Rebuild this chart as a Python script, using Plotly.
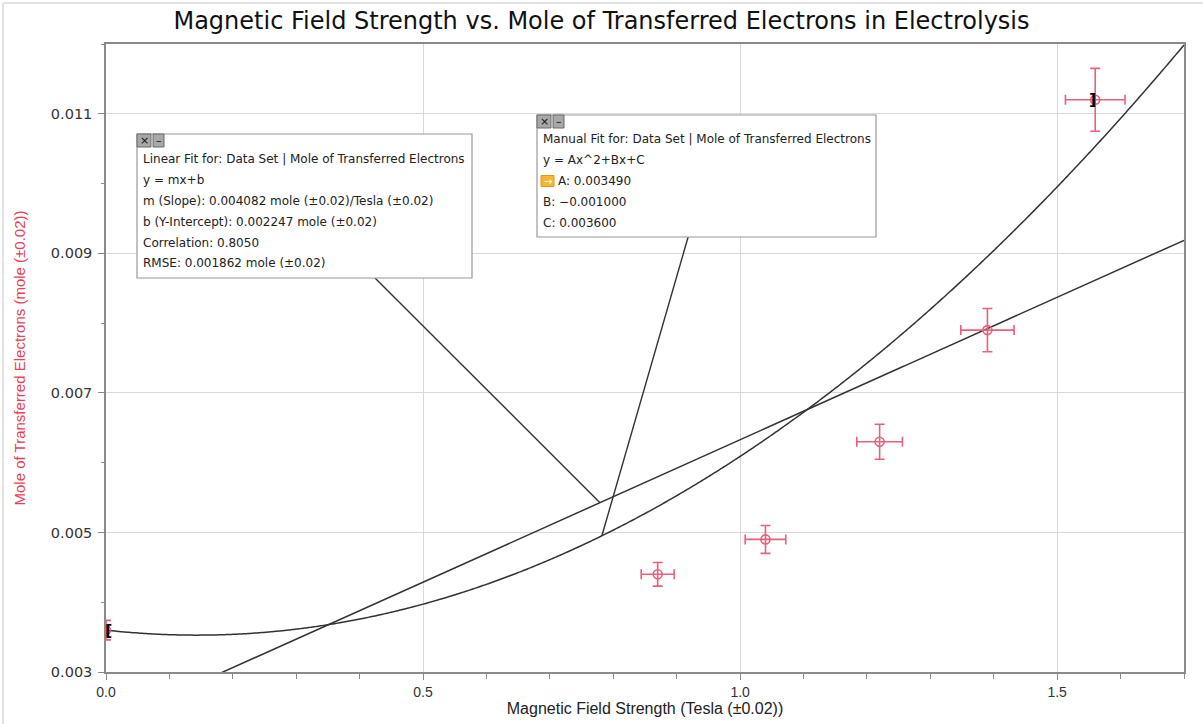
import numpy as np
import plotly.graph_objects as go

# ---- data ----
field_tesla = [0.0, 0.87, 1.04, 1.22, 1.39, 1.56]
moles = [0.0036, 0.0044, 0.0049, 0.0063, 0.0079, 0.0112]
x_err = [0.0, 0.026, 0.032, 0.036, 0.042, 0.047]
y_err = [0.00014, 0.00017, 0.0002, 0.00025, 0.00031, 0.00045]

# fit parameters (from the fit boxes)
lin_m = 0.004082
lin_b = 0.002247
quad_A = 0.003490
quad_B = -0.001000
quad_C = 0.003600

x_range = [0.0, 1.7]
y_range = [0.003, 0.012]

title_text = "Magnetic Field Strength vs. Mole of Transferred Electrons in Electrolysis"
x_title = "Magnetic Field Strength (Tesla (±0.02))"
y_title = "Mole of Transferred Electrons (mole (±0.02))"

lin_lines = [
    "Linear Fit for: Data Set | Mole of Transferred Electrons",
    "y = mx+b",
    "m (Slope): 0.004082 mole (±0.02)/Tesla (±0.02)",
    "b (Y-Intercept): 0.002247 mole (±0.02)",
    "Correlation: 0.8050",
    "RMSE: 0.001862 mole (±0.02)",
]
man_lines = [
    "Manual Fit for: Data Set | Mole of Transferred Electrons",
    "y = Ax^2+Bx+C",
    "A: 0.003490",
    "B: \u22120.001000",
    "C: 0.003600",
]

# ---- layout geometry (pixels) ----
W, H = 1203, 724
ML, MR, MT, MB = 106, 19, 44, 52
PW, PH = W - ML - MR, H - MT - MB


def px(x):
    return (x - ML) / PW


def py(y):
    return (H - MB - y) / PH


RED = "#e8607a"
TXT_FONT = "DejaVu Sans"
NARROW = "Liberation Sans Narrow, Liberation Sans, Arial Narrow, sans-serif"

fig = go.Figure()

xs = np.linspace(x_range[0], x_range[1], 400)
fig.add_trace(go.Scatter(x=xs, y=lin_m * xs + lin_b, mode="lines",
                         line=dict(color="#333333", width=1.5), hoverinfo="skip", showlegend=False))
fig.add_trace(go.Scatter(x=xs, y=quad_A * xs ** 2 + quad_B * xs + quad_C, mode="lines",
                         line=dict(color="#333333", width=1.5, shape="spline"), hoverinfo="skip", showlegend=False))

fig.add_trace(go.Scatter(
    x=field_tesla, y=moles, mode="markers",
    marker=dict(symbol="circle-open", size=9, color=RED, line=dict(width=1.6, color=RED)),
    error_x=dict(type="data", array=x_err, color=RED, thickness=1.6, width=5),
    error_y=dict(type="data", array=y_err, color=RED, thickness=1.6, width=5),
    showlegend=False,
))

shapes = []
annotations = []

# outer faint frame
shapes.append(dict(type="line", xref="paper", yref="paper", x0=px(3), x1=px(W), y0=py(3), y1=py(3),
                   line=dict(color="#e2e2e2", width=2)))
shapes.append(dict(type="line", xref="paper", yref="paper", x0=px(3), x1=px(3), y0=py(3), y1=py(H),
                   line=dict(color="#e2e2e2", width=2)))

# leader lines from boxes to the fit curves
lx = 0.779
shapes.append(dict(type="line", xref="x", yref="y", x0=0.4242, y0=0.008646,
                   x1=lx, y1=lin_m * lx + lin_b, line=dict(color="#333333", width=1.4)))
qx = 0.782
shapes.append(dict(type="line", xref="x", yref="y", x0=0.918, y0=0.009234,
                   x1=qx, y1=quad_A * qx ** 2 + quad_B * qx + quad_C, line=dict(color="#333333", width=1.4)))


def add_box(x0, y0, x1, y1, lines, line_ys, text_x, orange_idx=None):
    shapes.append(dict(type="rect", xref="paper", yref="paper", x0=px(x0), x1=px(x1), y0=py(y1), y1=py(y0),
                       line=dict(color="#9a9a9a", width=1.2), fillcolor="white", layer="above"))
    # title bar icons
    for (ix0, ix1, sym) in [(x0, x0 + 14, "\u00d7"), (x0 + 16, x0 + 27, "\u2013")]:
        shapes.append(dict(type="rect", xref="paper", yref="paper", x0=px(ix0), x1=px(ix1),
                           y0=py(y0 + 13), y1=py(y0), line=dict(color="#6a6a6a", width=1),
                           fillcolor="#a8a8a8", layer="above"))
        annotations.append(dict(xref="paper", yref="paper", x=px((ix0 + ix1) / 2), y=py(y0 + 6.5),
                                text=sym, showarrow=False, font=dict(family=TXT_FONT, size=11, color="#111"),
                                xanchor="center", yanchor="middle"))
    for i, (t, ly) in enumerate(zip(lines, line_ys)):
        tx = text_x
        if orange_idx is not None and i == orange_idx:
            shapes.append(dict(type="rect", xref="paper", yref="paper", x0=px(text_x), x1=px(text_x + 13),
                               y0=py(ly + 5.5), y1=py(ly - 5.5), line=dict(color="#e39a1a", width=1),
                               fillcolor="#f7b533", layer="above"))
            annotations.append(dict(xref="paper", yref="paper", x=px(text_x + 6.5), y=py(ly),
                                    text="\u2192", showarrow=False,
                                    font=dict(family=TXT_FONT, size=10, color="white"),
                                    xanchor="center", yanchor="middle"))
            tx = text_x + 15
        annotations.append(dict(xref="paper", yref="paper", x=px(tx), y=py(ly), text=t, showarrow=False,
                                font=dict(family=TXT_FONT, size=12, color="#222"),
                                xanchor="left", yanchor="middle"))


add_box(137, 134, 472, 278, lin_lines, [159, 180, 201, 222, 243, 263], 141)
add_box(537, 115, 876, 237, man_lines, [139, 160, 181, 202, 223], 541, orange_idx=2)

# fit range brackets
annotations.append(dict(xref="x", yref="y", x=field_tesla[0], y=moles[0], text="<b>[</b>", showarrow=False,
                        font=dict(family=TXT_FONT, size=16, color="black"), xanchor="center", yanchor="middle",
                        xshift=2))
annotations.append(dict(xref="x", yref="y", x=field_tesla[-1], y=moles[-1], text="<b>]</b>", showarrow=False,
                        font=dict(family=TXT_FONT, size=16, color="black"), xanchor="center", yanchor="middle",
                        xshift=-3))

fig.update_layout(
    width=W, height=H,
    margin=dict(l=ML, r=MR, t=MT, b=MB, autoexpand=False),
    paper_bgcolor="white", plot_bgcolor="white",
    title=dict(text=title_text, x=0.5, xanchor="center", y=1 - 21 / H, yanchor="middle",
               font=dict(family=TXT_FONT, size=24, color="#111")),
    shapes=shapes, annotations=annotations,
    showlegend=False,
)

fig.update_xaxes(
    range=x_range, tick0=0, dtick=0.5, tickformat=".1f", automargin=False,
    showgrid=True, gridcolor="#d9d9d9", gridwidth=1, zeroline=False,
    showline=True, linecolor="#8a8a8a", linewidth=1.5, mirror=True,
    ticks="outside", ticklen=6, tickcolor="#8a8a8a",
    minor=dict(dtick=0.1, ticks="outside", ticklen=5, tickcolor="#8a8a8a", showgrid=False),
    tickfont=dict(family=NARROW, size=14, color="#333"),
    title=dict(text=x_title, font=dict(family=NARROW, size=16, color="#222"), standoff=4),
)
fig.update_yaxes(
    range=y_range, tick0=0.003, dtick=0.002, tickformat=".3f", automargin=False,
    showgrid=True, gridcolor="#d9d9d9", gridwidth=1, zeroline=False,
    showline=True, linecolor="#8a8a8a", linewidth=1.5, mirror=True,
    ticks="outside", ticklen=6, tickcolor="#8a8a8a", ticklabelstandoff=3,
    minor=dict(dtick=0.001, ticks="outside", ticklen=3, tickcolor="#8a8a8a", showgrid=False),
    tickfont=dict(family=TXT_FONT, size=14.5, color="#333"),
    title=dict(text=y_title, font=dict(family=NARROW, size=15, color="#e8414f"), standoff=22),
)

fig.write_html("out.html", config={"displayModeBar": False})

# remove the default page margin so the figure sits at the window's top-left corner
with open("out.html", "r", encoding="utf-8") as f:
    html = f.read()
html = html.replace("<head>", "<head><style>html,body{margin:0;padding:0;overflow:hidden;}</style>", 1)
with open("out.html", "w", encoding="utf-8") as f:
    f.write(html)
